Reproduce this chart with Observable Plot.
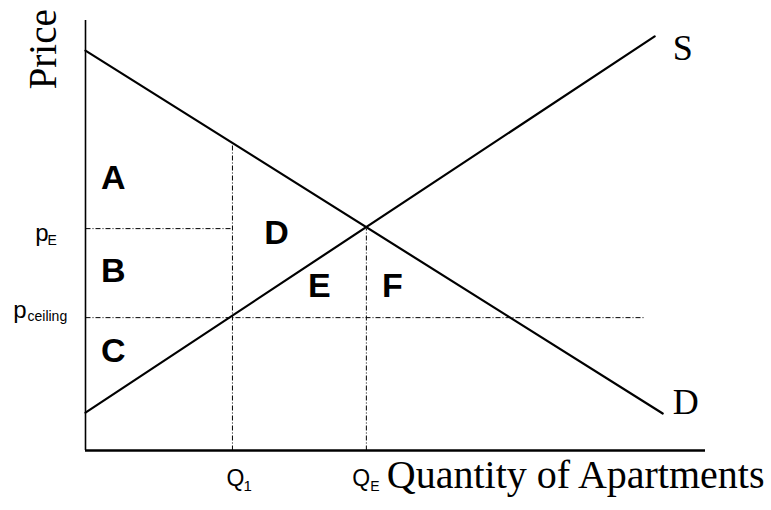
<!DOCTYPE html>
<html><head><meta charset="utf-8">
<script src="https://cdn.jsdelivr.net/npm/d3@7"></script>
<script src="https://cdn.jsdelivr.net/npm/@observablehq/plot@0.6"></script>
<style>body{margin:0;background:#fff}</style>
</head><body><div id="chart"></div>
<script>
// Curves (quantity, price) endpoints
const demandQ = [0, 93.1];
const demandP = [93, 8.6];
const supplyQ = [0, 91.8];
const supplyP = [8.8, 96.3];
// Key values
const Q1 = 23.7, QE = 45.3;
const pE = 51.6, pCeiling = 30.9;
const demandAtQ1 = 71.5;
const ceilingEnd = 90.3;
// Region labels
const regionNames = ["A", "B", "C", "D", "E", "F"];
const regionQ = [4.5, 4.5, 4.5, 30.8, 37.7, 49.5];
const regionP = [60.9, 39.1, 20.5, 48.1, 35.8, 35.8];
// Curve labels
const curveNames = ["S", "D"];
const curveLabelQ = [94.7, 94.7];
const curveLabelP = [90.7, 8.4];

const serif = "'Liberation Serif', 'Times New Roman', serif";
const sans = "'Liberation Sans', Arial, sans-serif";

const demand = demandQ.map((q, i) => ({q, p: demandP[i]}));
const supply = supplyQ.map((q, i) => ({q, p: supplyP[i]}));
const regions = regionNames.map((name, i) => ({name, q: regionQ[i], p: regionP[i]}));
const curveLabels = curveNames.map((name, i) => ({name, q: curveLabelQ[i], p: curveLabelP[i]}));
const guides = [
  {x1: 0, y1: pE, x2: Q1, y2: pE},
  {x1: 0, y1: pCeiling, x2: ceilingEnd, y2: pCeiling},
  {x1: Q1, y1: 0, x2: Q1, y2: demandAtQ1},
  {x1: QE, y1: 0, x2: QE, y2: pE}
];
const dash = {stroke: "black", strokeWidth: 1, strokeDasharray: "5,2,1,2"};

const chart = Plot.plot({
  width: 771, height: 510,
  marginLeft: 85, marginRight: 66, marginTop: 20, marginBottom: 60,
  x: {domain: [0, 100], axis: null},
  y: {domain: [0, 100], axis: null},
  style: {background: "white", overflow: "visible"},
  marks: [
    Plot.link(guides, {x1: "x1", y1: "y1", x2: "x2", y2: "y2", ...dash}),
    Plot.ruleX([0], {y1: 0, y2: 100, stroke: "black", strokeWidth: 1.6}),
    Plot.ruleY([0], {x1: 0, x2: 100, stroke: "black", strokeWidth: 2.6}),
    Plot.line(demand, {x: "q", y: "p", stroke: "black", strokeWidth: 2.2}),
    Plot.line(supply, {x: "q", y: "p", stroke: "black", strokeWidth: 2.2}),
    Plot.text(regions, {x: "q", y: "p", text: "name", fontFamily: sans, fontWeight: "bold", fontSize: 34, textAnchor: "middle", lineAnchor: "bottom", fill: "black"}),
    Plot.text(curveLabels, {x: "q", y: "p", text: "name", fontFamily: serif, fontSize: 36, textAnchor: "start", lineAnchor: "bottom", fill: "black"}),
    // price tick labels
    Plot.text([pE], {x: 0, y: d => d, text: ["p"], fontFamily: sans, fontSize: 24, textAnchor: "end", lineAnchor: "bottom", dx: -37, dy: 12}),
    Plot.text([pE], {x: 0, y: d => d, text: ["E"], fontFamily: sans, fontSize: 14, textAnchor: "start", lineAnchor: "bottom", dx: -38, dy: 16}),
    Plot.text([pCeiling], {x: 0, y: d => d, text: ["p"], fontFamily: sans, fontSize: 24, textAnchor: "end", lineAnchor: "bottom", dx: -59, dy: 0}),
    Plot.text([pCeiling], {x: 0, y: d => d, text: ["ceiling"], fontFamily: sans, fontSize: 14, textAnchor: "start", lineAnchor: "bottom", dx: -58, dy: 3}),
    // quantity tick labels
    Plot.text([Q1], {x: d => d, y: 0, text: ["Q"], fontFamily: sans, fontSize: 23, textAnchor: "start", lineAnchor: "bottom", dx: -6, dy: 35}),
    Plot.text([Q1], {x: d => d, y: 0, text: ["1"], fontFamily: sans, fontSize: 15, textAnchor: "start", lineAnchor: "bottom", dx: 11, dy: 40}),
    Plot.text([QE], {x: d => d, y: 0, text: ["Q"], fontFamily: sans, fontSize: 23, textAnchor: "start", lineAnchor: "bottom", dx: -14, dy: 35}),
    Plot.text([QE], {x: d => d, y: 0, text: ["E"], fontFamily: sans, fontSize: 14, textAnchor: "start", lineAnchor: "bottom", dx: 4, dy: 40}),
    // axis titles
    Plot.text(["Price"], {x: -4.8, y: 93.3, text: d => d, rotate: -90, fontFamily: serif, fontSize: 39, textAnchor: "middle", lineAnchor: "bottom"}),
    Plot.text(["Quantity of Apartments"], {x: 48.6, y: -8.8, text: d => d, fontFamily: serif, fontSize: 40, textAnchor: "start", lineAnchor: "bottom"})
  ]
});
document.getElementById("chart").appendChild(chart);
</script>
</body></html>
